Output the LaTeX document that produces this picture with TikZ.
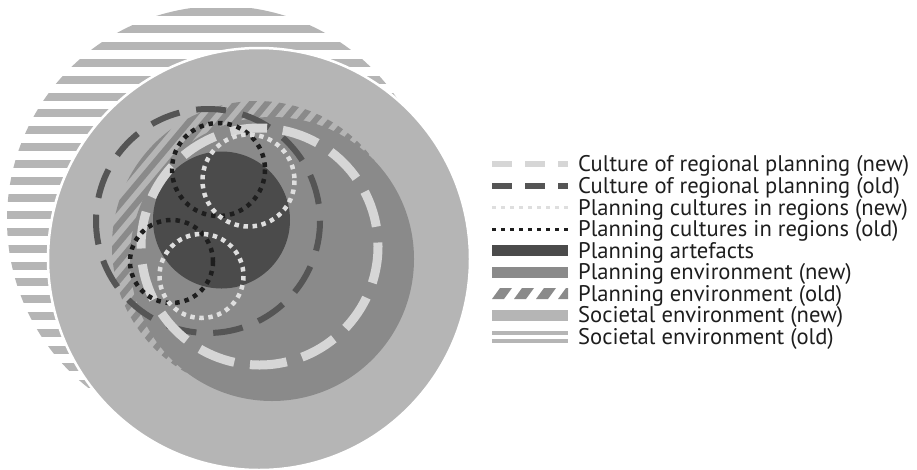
\documentclass[tikz,border=0pt]{standalone}
\usepackage{fontspec}
\setmainfont{PT Sans}
\usetikzlibrary{calc}
\definecolor{socnew}{HTML}{B5B5B5}
\definecolor{penv}{HTML}{8A8A8A}
\definecolor{artef}{HTML}{4B4B4B}
\definecolor{cdark}{HTML}{555555}
\definecolor{clight}{HTML}{D6D6D6}
\definecolor{dotlight}{HTML}{DEDEDE}
\definecolor{dotdark}{HTML}{1E1E1E}
\definecolor{txt}{HTML}{1E1E1E}
\begin{document}
\begin{tikzpicture}[x=1pt,y=-1pt,
  socstripe/.style={fill=socnew},
  hatchline/.style={draw=penv, line width=6pt},
  darkdash/.style={draw=cdark, line width=6pt, dash pattern=on 30pt off 16.9pt},
  lightdash/.style={draw=clight, line width=9pt, dash pattern=on 37pt off 15.9pt},
  darkdot/.style={draw=dotdark, line width=4.5pt, dash pattern=on 4.5pt off 5pt},
  lightdot/.style={draw=dotlight, line width=4.5pt, dash pattern=on 4.5pt off 4.6pt},
  legdash/.style={line width=6pt, dash pattern=on 20pt off 13pt},
  legdot/.style={line width=3pt, dash pattern=on 4pt off 5pt},
  legtext/.style={anchor=base west, text=txt, font=\fontsize{22.6}{22.6}\selectfont, inner sep=0pt}]
\useasboundingbox[fill=white] (0,0) rectangle (917,469);

% Societal environment (old): striped circle
\begin{scope}
  \clip (221,220) circle (214);
  \foreach \k in {0,...,25} {
    \fill[socstripe] (0,{12+16.9*\k-4}) rectangle (460,{12+16.9*\k+4});
  }
\end{scope}

% Societal environment (new)
\fill[socnew, draw=white, line width=2.5pt] (259,259) circle (211);

% Planning environment (old): hatched circle
\begin{scope}
  \clip (257,246) circle (145);
  \foreach \k in {-14,...,14} {
    \draw[hatchline] ($(257,246)+(\k*9.19,\k*7.71)+(-103,123)$) -- ++(206,-246);
  }
\end{scope}

% Planning environment (new)
\fill[penv] (272,259) circle (142);

% Planning artefacts
\fill[artef] (221.5,220) circle (68.5);

% Culture of regional planning (old / new)
\draw[darkdash] (208,221) circle (112);
\draw[lightdash] (259.5,246.5) circle (118.5);

% Planning cultures in regions
\draw[darkdot] (218.5,169.5) circle (46.5);
\draw[darkdot] (171.5,261.5) circle (41.5);
\draw[lightdot] (248.5,180.5) circle (46);
\draw[lightdot] (201.5,276) circle (42);

% Legend swatches
\coordinate (s1a) at (492,164);   \coordinate (s1b) at (568,164);
\coordinate (s2a) at (492,186);   \coordinate (s2b) at (568,186);
\coordinate (s3a) at (492,207.5); \coordinate (s3b) at (568,207.5);
\coordinate (s4a) at (492,229);   \coordinate (s4b) at (568,229);
\draw[legdash, draw=clight] (s1a) -- (s1b);
\draw[legdash, draw=cdark] (s2a) -- (s2b);
\draw[legdot, draw=dotlight] (s3a) -- (s3b);
\draw[legdot, draw=dotdark] (s4a) -- (s4b);
\fill[artef] (492,245) rectangle (568,256);
\fill[penv] (492,266.5) rectangle (568,277.5);
\begin{scope}
  \clip (492,288) rectangle (568,299);
  \foreach \x in {492,514,536,558} {
    \fill[penv] (\x,299) -- ++(12,0) -- ++(8,-11) -- ++(-12,0) -- cycle;
  }
\end{scope}
\fill[socnew] (492,309.5) rectangle (568,320.5);
\fill[socnew] (492,331) rectangle (568,334.5);
\fill[socnew] (492,339) rectangle (568,342.5);

% Legend texts
\node[legtext] (t1) at (578,171.5) {Culture of regional planning (new)};
\node[legtext] (t2) at (578,193.5) {Culture of regional planning (old)};
\node[legtext] (t3) at (578,215)   {Planning cultures in regions (new)};
\node[legtext] (t4) at (578,236.5) {Planning cultures in regions (old)};
\node[legtext] (t5) at (578,258)   {Planning artefacts};
\node[legtext] (t6) at (578,279.5) {Planning environment (new)};
\node[legtext] (t7) at (578,301)   {Planning environment (old)};
\node[legtext] (t8) at (578,322.5) {Societal environment (new)};
\node[legtext] (t9) at (578,344)   {Societal environment (old)};
\end{tikzpicture}
\end{document}
